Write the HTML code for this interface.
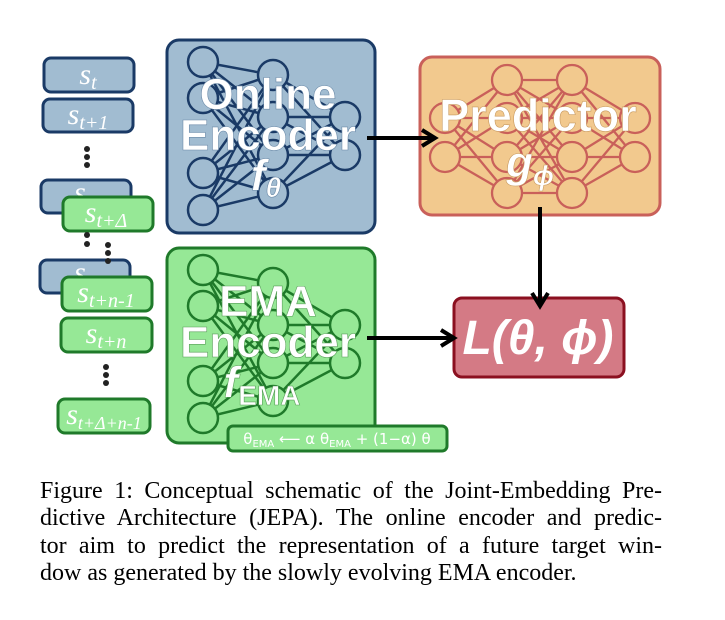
<!DOCTYPE html>
<html><head><meta charset="utf-8"><style>
html,body{margin:0;padding:0;background:#fff;width:725px;height:620px;overflow:hidden}
svg{position:absolute;left:0;top:0}
.cap{position:absolute;left:40px;top:478px;width:622px;font-family:"Liberation Serif",serif;font-size:24px;line-height:27.4px;color:#000}
.cap div{text-align:justify;text-align-last:justify;white-space:nowrap}
.cap div.last{text-align-last:left}
</style></head><body>
<svg width="725" height="620" viewBox="0 0 725 620" xmlns="http://www.w3.org/2000/svg">
<defs>
<marker id="ah" viewBox="0 0 20 20" refX="16" refY="10" markerWidth="20" markerHeight="20" markerUnits="userSpaceOnUse" orient="auto"><path d="M3,2 L16,10 L3,18" fill="none" stroke="#000" stroke-width="4"/></marker>
</defs>
<g font-family="Liberation Serif,serif" font-style="italic" fill="#fff" text-anchor="middle">
<rect x="44" y="58" width="90" height="34" rx="7" fill="#a1bcd1" stroke="#1a3a66" stroke-width="3"/>
<text x="88" y="84" font-size="30">s<tspan font-size="20" dy="5">t</tspan></text>
<rect x="43" y="99" width="90" height="33" rx="7" fill="#a1bcd1" stroke="#1a3a66" stroke-width="3"/>
<text x="88" y="124" font-size="30">s<tspan font-size="20" dy="5">t+1</tspan></text>
<rect x="41" y="180" width="90" height="33" rx="7" fill="#a1bcd1" stroke="#1a3a66" stroke-width="3"/>
<text x="80" y="202" font-size="30">s</text>
<rect x="40" y="260" width="90" height="33" rx="7" fill="#a1bcd1" stroke="#1a3a66" stroke-width="3"/>
<text x="80" y="282" font-size="30">s</text>
<rect x="63" y="197" width="90" height="34" rx="7" fill="#96e896" stroke="#1f7a2a" stroke-width="3"/>
<text x="106" y="222" font-size="30">s<tspan font-size="20" dy="5">t+Δ</tspan></text>
<rect x="62" y="277" width="90" height="34" rx="7" fill="#96e896" stroke="#1f7a2a" stroke-width="3"/>
<text x="106" y="302" font-size="30">s<tspan font-size="20" dy="5">t+n-1</tspan></text>
<rect x="61" y="318" width="91" height="34" rx="7" fill="#96e896" stroke="#1f7a2a" stroke-width="3"/>
<text x="106" y="343" font-size="30">s<tspan font-size="20" dy="5">t+n</tspan></text>
<rect x="58" y="399" width="92" height="34" rx="7" fill="#96e896" stroke="#1f7a2a" stroke-width="3"/>
<text x="104" y="424" font-size="30">s<tspan font-size="18" dy="5">t+Δ+n-1</tspan></text>
</g>
<g fill="#222">
<circle cx="87" cy="149" r="3"/><circle cx="87" cy="157" r="3"/><circle cx="87" cy="165" r="3"/>
<circle cx="87" cy="235" r="3"/><circle cx="87" cy="244" r="3"/>
<circle cx="108" cy="245" r="3"/><circle cx="108" cy="253" r="3"/><circle cx="108" cy="261" r="3"/>
<circle cx="106" cy="367" r="3"/><circle cx="106" cy="375" r="3"/><circle cx="106" cy="383" r="3"/>
</g>
<rect x="167" y="40" width="208" height="193" rx="12" fill="#a1bcd1" stroke="#1a3a66" stroke-width="3"/>
<g stroke="#1a3a66" stroke-width="2.5" fill="none">
<path d="M203,62L273,75M203,62L273,117M203,62L273,155M203,62L273,193M203,98L273,75M203,98L273,117M203,98L273,155M203,98L273,193M203,173L273,75M203,173L273,117M203,173L273,155M203,173L273,193M203,210L273,75M203,210L273,117M203,210L273,155M203,210L273,193M273,75L345,117M273,75L345,155M273,117L345,117M273,117L345,155M273,155L345,117M273,155L345,155M273,193L345,117M273,193L345,155"/>
<g fill="#a1bcd1">
<circle cx="203" cy="62" r="15"/><circle cx="203" cy="98" r="15"/><circle cx="203" cy="173" r="15"/><circle cx="203" cy="210" r="15"/>
<circle cx="273" cy="75" r="15"/><circle cx="273" cy="117" r="15"/><circle cx="273" cy="155" r="15"/><circle cx="273" cy="193" r="15"/>
<circle cx="345" cy="117" r="15"/><circle cx="345" cy="155" r="15"/>
</g>
</g>
<g font-family="Liberation Sans,sans-serif" font-weight="bold" fill="#fff" text-anchor="middle" stroke="#6b8aa8" stroke-width="0.6">
<text x="268" y="109" font-size="44">Online</text>
<text x="268" y="150" font-size="44">Encoder</text>
<text x="266" y="190" font-size="44" font-style="italic">f<tspan font-size="28" dy="7">θ</tspan></text>
</g>
<rect x="167" y="248" width="208" height="195" rx="12" fill="#96e896" stroke="#1f7a2a" stroke-width="3"/>
<g transform="translate(0,208)" stroke="#1f7a2a" stroke-width="2.5" fill="none">
<path d="M203,62L273,75M203,62L273,117M203,62L273,155M203,62L273,193M203,98L273,75M203,98L273,117M203,98L273,155M203,98L273,193M203,173L273,75M203,173L273,117M203,173L273,155M203,173L273,193M203,210L273,75M203,210L273,117M203,210L273,155M203,210L273,193M273,75L345,117M273,75L345,155M273,117L345,117M273,117L345,155M273,155L345,117M273,155L345,155M273,193L345,117M273,193L345,155"/>
<g fill="#96e896">
<circle cx="203" cy="62" r="15"/><circle cx="203" cy="98" r="15"/><circle cx="203" cy="173" r="15"/><circle cx="203" cy="210" r="15"/>
<circle cx="273" cy="75" r="15"/><circle cx="273" cy="117" r="15"/><circle cx="273" cy="155" r="15"/><circle cx="273" cy="193" r="15"/>
<circle cx="345" cy="117" r="15"/><circle cx="345" cy="155" r="15"/>
</g>
</g>
<g font-family="Liberation Sans,sans-serif" font-weight="bold" fill="#fff" text-anchor="middle" stroke="#5aa05a" stroke-width="0.6">
<text x="268" y="316" font-size="44">EMA</text>
<text x="268" y="357" font-size="44">Encoder</text>
<text x="262" y="397" font-size="44" font-style="italic">f<tspan font-size="28" dy="8" font-style="normal">EMA</tspan></text>
</g>
<rect x="228" y="426" width="219" height="25" rx="5" fill="#96e896" stroke="#1f7a2a" stroke-width="3"/>
<text x="337" y="444" font-family="DejaVu Sans,sans-serif" font-size="15" fill="#fff" text-anchor="middle">θ<tspan font-size="10" dy="3">EMA</tspan><tspan dy="-3"> ⟵ α θ</tspan><tspan font-size="10" dy="3">EMA</tspan><tspan dy="-3"> + (1−α) θ</tspan></text>
<rect x="420" y="57" width="240" height="158" rx="12" fill="#f2c98e" stroke="#c9605a" stroke-width="3"/>
<g stroke="#c9605a" stroke-width="2.3" fill="none">
<path d="M445,118L507,80M445,118L507,118M445,118L507,157M445,118L507,193M445,157L507,80M445,157L507,118M445,157L507,157M445,157L507,193M507,80L572,80M507,80L572,118M507,80L572,157M507,80L572,193M507,118L572,80M507,118L572,118M507,118L572,157M507,118L572,193M507,157L572,80M507,157L572,118M507,157L572,157M507,157L572,193M507,193L572,80M507,193L572,118M507,193L572,157M507,193L572,193M572,80L635,118M572,80L635,157M572,118L635,118M572,118L635,157M572,157L635,118M572,157L635,157M572,193L635,118M572,193L635,157"/>
<g fill="#f2c98e">
<circle cx="445" cy="118" r="15"/><circle cx="445" cy="157" r="15"/>
<circle cx="507" cy="80" r="15"/><circle cx="507" cy="118" r="15"/><circle cx="507" cy="157" r="15"/><circle cx="507" cy="193" r="15"/>
<circle cx="572" cy="80" r="15"/><circle cx="572" cy="118" r="15"/><circle cx="572" cy="157" r="15"/><circle cx="572" cy="193" r="15"/>
<circle cx="635" cy="118" r="15"/><circle cx="635" cy="157" r="15"/>
</g>
</g>
<g font-family="Liberation Sans,sans-serif" font-weight="bold" fill="#fff" text-anchor="middle" stroke="#c89a60" stroke-width="0.6">
<text x="538" y="131" font-size="45">Predictor</text>
<text x="530" y="177" font-size="44" font-style="italic">g<tspan font-size="28" dy="8">ϕ</tspan></text>
</g>
<rect x="454" y="298" width="170" height="79" rx="8" fill="#d47a85" stroke="#8b1020" stroke-width="3"/>
<text x="538" y="354" font-family="Liberation Sans,sans-serif" font-weight="bold" font-style="italic" font-size="48" fill="#fff" text-anchor="middle">L(θ, ϕ)</text>
<g stroke="#000" stroke-width="4" fill="none" marker-end="url(#ah)">
<line x1="367" y1="138" x2="435" y2="138"/>
<line x1="367" y1="338" x2="454" y2="338"/>
<line x1="540" y1="207" x2="540" y2="306"/>
</g>
</svg>
<div class="cap">
<div>Figure 1: Conceptual schematic of the Joint-Embedding Pre-</div>
<div>dictive Architecture (JEPA). The online encoder and predic-</div>
<div>tor aim to predict the representation of a future target win-</div>
<div class="last">dow as generated by the slowly evolving EMA encoder.</div>
</div>
</body></html>
